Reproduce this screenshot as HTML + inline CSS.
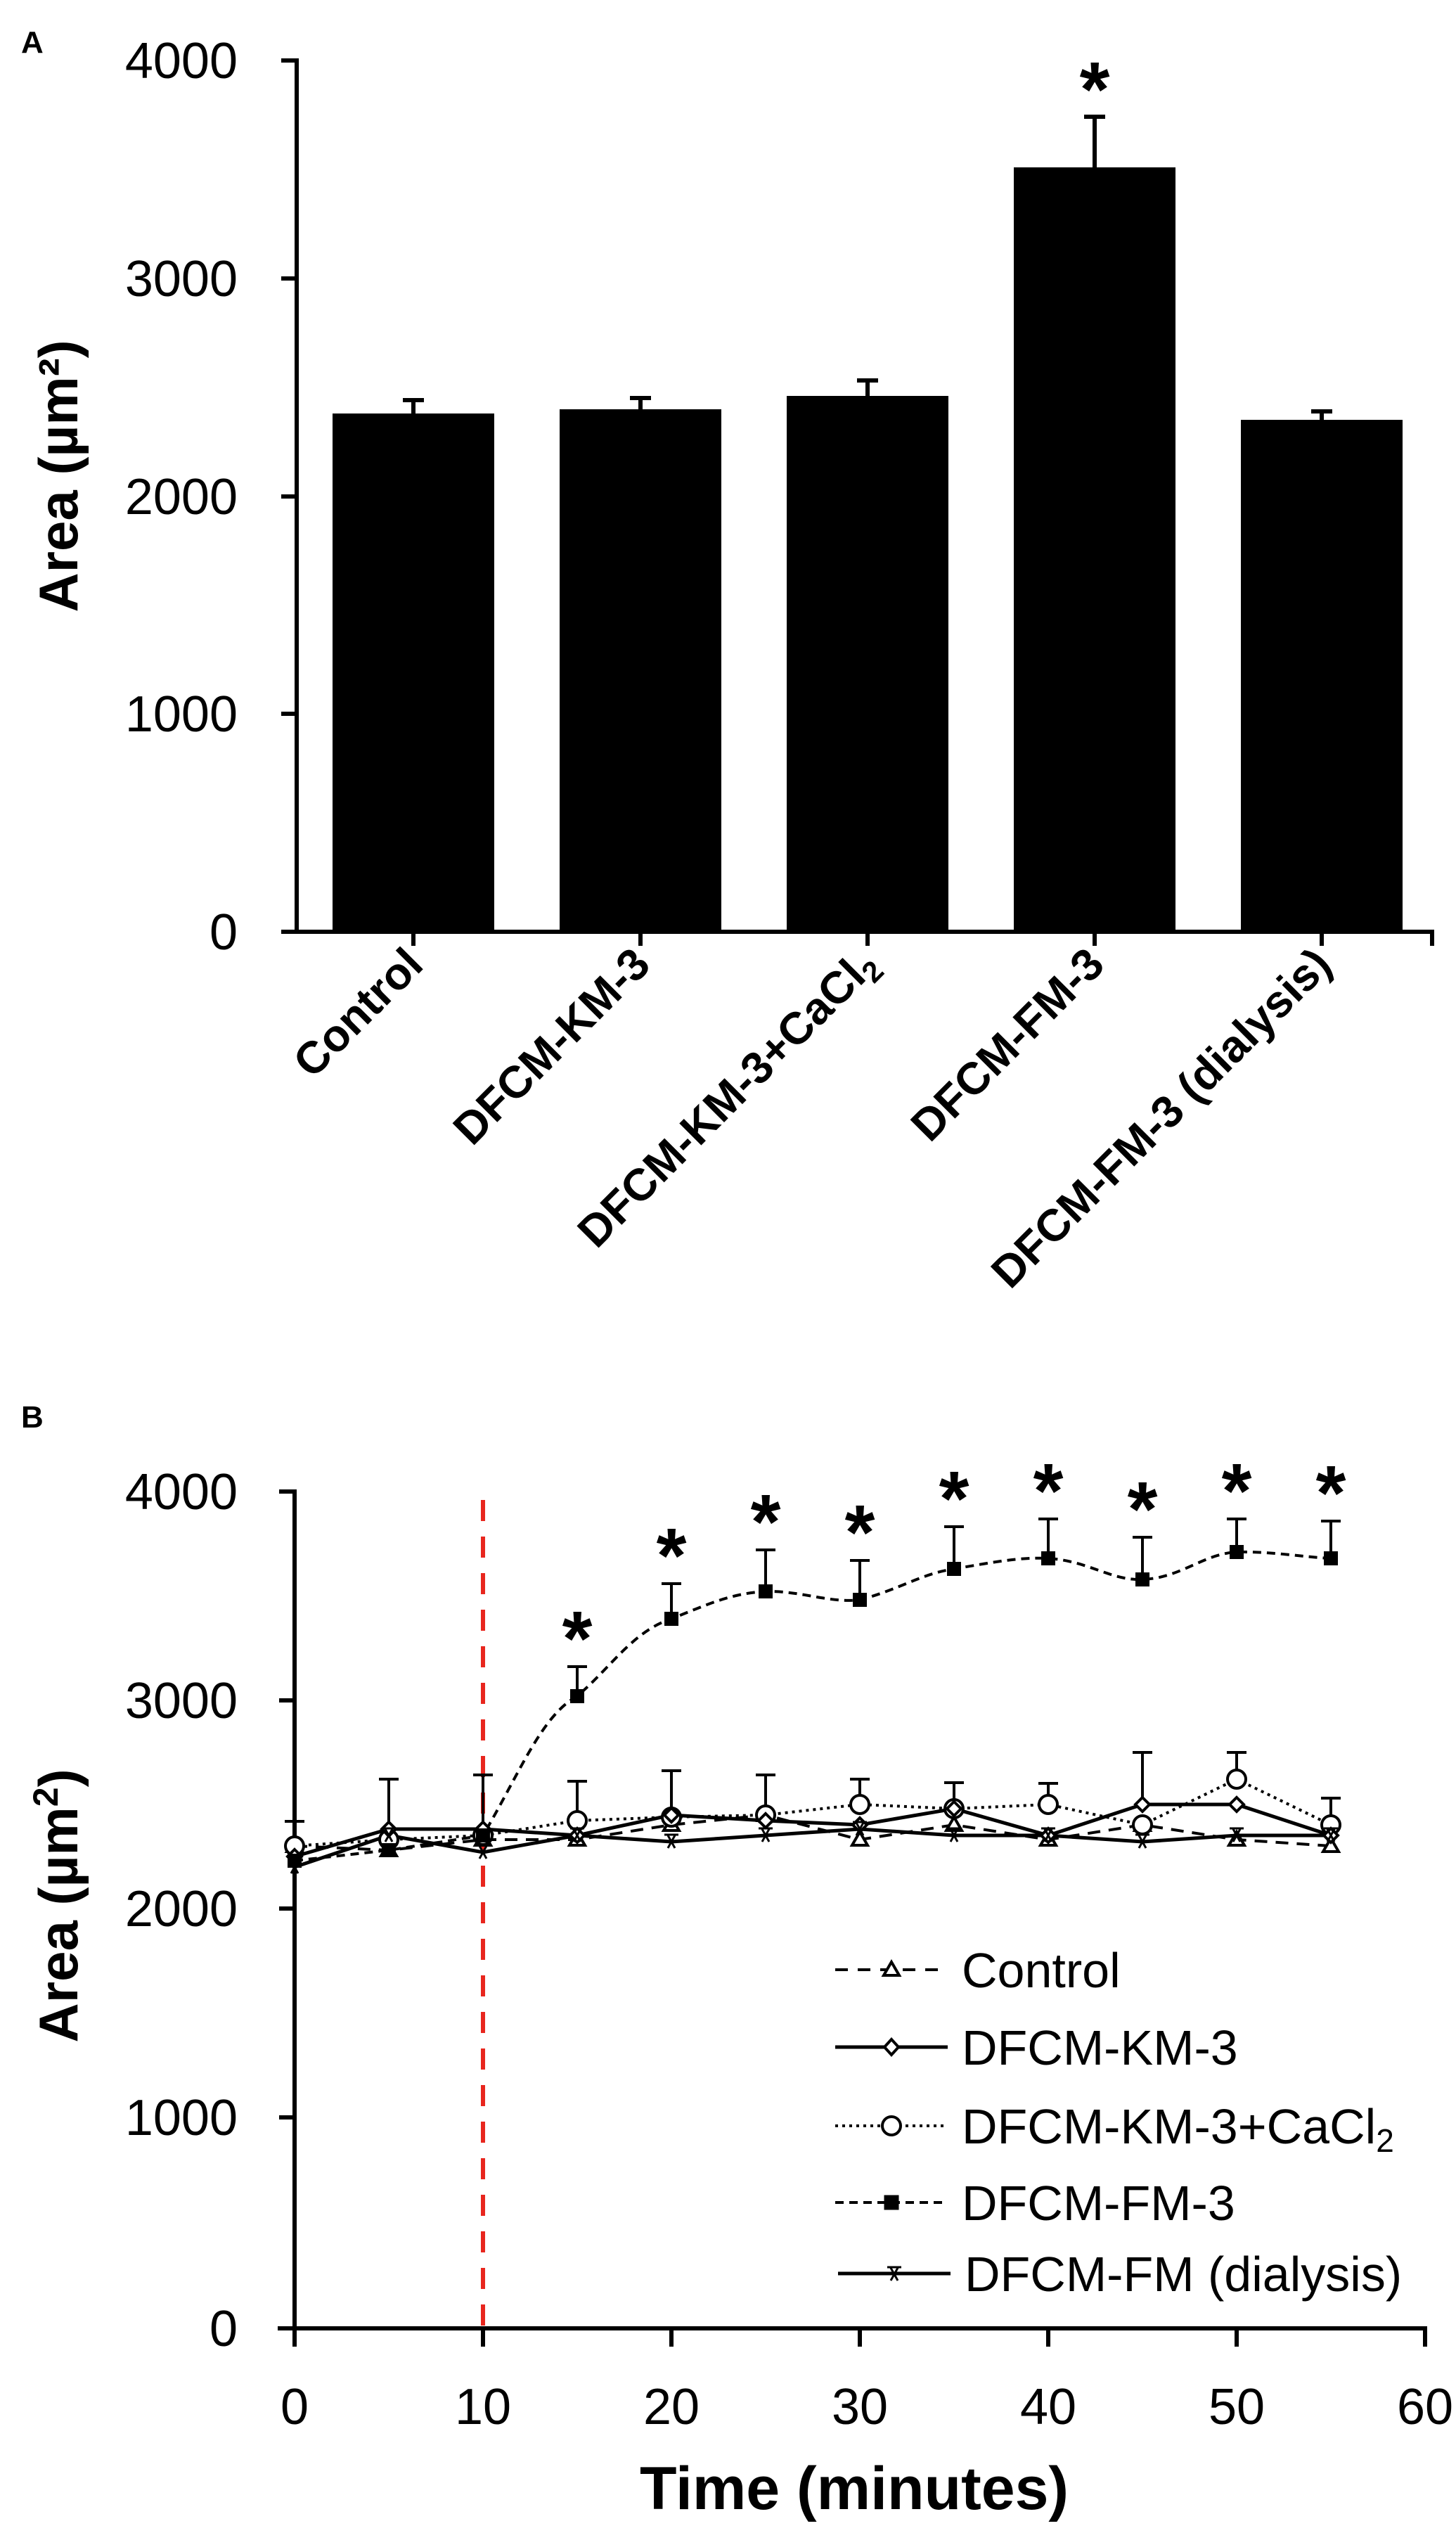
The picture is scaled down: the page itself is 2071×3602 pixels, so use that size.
<!DOCTYPE html>
<html><head><meta charset="utf-8"><style>html,body{margin:0;padding:0;background:#fff}svg{display:block}</style></head>
<body>
<svg width="2071" height="3602" viewBox="0 0 2071 3602" xmlns="http://www.w3.org/2000/svg" font-family="Liberation Sans, sans-serif">
<rect width="2071" height="3602" fill="#fff"/>
<!-- Panel A -->
<text x="30" y="75" font-size="44" font-weight="bold">A</text>
<g stroke="#000" stroke-width="6" fill="none">
<line x1="422" y1="83" x2="422" y2="1325"/>
<line x1="400" y1="1325" x2="2040" y2="1325"/>
<line x1="400" y1="86" x2="422" y2="86"/><line x1="400" y1="396" x2="422" y2="396"/><line x1="400" y1="706" x2="422" y2="706"/><line x1="400" y1="1015" x2="422" y2="1015"/>
<line x1="588" y1="1325" x2="588" y2="1345"/><line x1="911" y1="1325" x2="911" y2="1345"/><line x1="1234" y1="1325" x2="1234" y2="1345"/><line x1="1557" y1="1325" x2="1557" y2="1345"/><line x1="1880" y1="1325" x2="1880" y2="1345"/><line x1="2037" y1="1325" x2="2037" y2="1345"/>
</g>
<g font-size="72" text-anchor="end">
<text x="338" y="111">4000</text><text x="338" y="421">3000</text><text x="338" y="731">2000</text><text x="338" y="1040">1000</text><text x="338" y="1350">0</text>
</g>
<text transform="translate(110,677) rotate(-90)" font-size="78" font-weight="bold" text-anchor="middle">Area (µm²)</text>
<g fill="#000">
<rect x="473" y="588" width="230" height="737"/>
<rect x="796" y="582" width="230" height="743"/>
<rect x="1119" y="563" width="230" height="762"/>
<rect x="1442" y="238" width="230" height="1087"/>
<rect x="1765" y="597" width="230" height="728"/>
</g>
<g stroke="#000" stroke-width="6">
<line x1="588" y1="588" x2="588" y2="569"/><line x1="573" y1="569" x2="603" y2="569"/>
<line x1="911" y1="582" x2="911" y2="566"/><line x1="896" y1="566" x2="926" y2="566"/>
<line x1="1234" y1="563" x2="1234" y2="541"/><line x1="1219" y1="541" x2="1249" y2="541"/>
<line x1="1557" y1="238" x2="1557" y2="166"/><line x1="1542" y1="166" x2="1572" y2="166"/>
<line x1="1880" y1="597" x2="1880" y2="585"/><line x1="1865" y1="585" x2="1895" y2="585"/>
</g>
<text x="1557" y="165" font-size="110" font-weight="bold" text-anchor="middle">*</text>
<g font-size="64" font-weight="bold" text-anchor="end">
<text transform="translate(605,1375) rotate(-45)">Control</text>
<text transform="translate(928,1375) rotate(-45)">DFCM-KM-3</text>
<text transform="translate(1251,1375) rotate(-45)">DFCM-KM-3+CaCl<tspan font-size="42" dy="12">2</tspan></text>
<text transform="translate(1574,1375) rotate(-45)">DFCM-FM-3</text>
<text transform="translate(1897,1375) rotate(-45)">DFCM-FM-3 (dialysis)</text>
</g>
<!-- Panel B -->
<text x="30" y="2030" font-size="44" font-weight="bold">B</text>
<g stroke="#000" stroke-width="6" fill="none">
<line x1="419" y1="2118" x2="419" y2="3311"/>
<line x1="395" y1="3311" x2="2030" y2="3311"/>
<line x1="397" y1="2121" x2="419" y2="2121"/><line x1="397" y1="2418" x2="419" y2="2418"/><line x1="397" y1="2714" x2="419" y2="2714"/><line x1="397" y1="3011" x2="419" y2="3011"/>
<line x1="419" y1="3311" x2="419" y2="3337"/><line x1="687" y1="3311" x2="687" y2="3337"/><line x1="955" y1="3311" x2="955" y2="3337"/><line x1="1223" y1="3311" x2="1223" y2="3337"/><line x1="1491" y1="3311" x2="1491" y2="3337"/><line x1="1759" y1="3311" x2="1759" y2="3337"/><line x1="2027" y1="3311" x2="2027" y2="3337"/>
</g>
<g font-size="72" text-anchor="end">
<text x="338" y="2146">4000</text><text x="338" y="2443">3000</text><text x="338" y="2739">2000</text><text x="338" y="3036">1000</text><text x="338" y="3336">0</text>
</g>
<g font-size="72" text-anchor="middle">
<text x="419" y="3447">0</text><text x="687" y="3447">10</text><text x="955" y="3447">20</text><text x="1223" y="3447">30</text><text x="1491" y="3447">40</text><text x="1759" y="3447">50</text><text x="2027" y="3447">60</text>
</g>
<text x="1215" y="3568" font-size="86" font-weight="bold" text-anchor="middle">Time (minutes)</text>
<text transform="translate(110,2710) rotate(-90)" font-size="78" font-weight="bold" text-anchor="middle">Area (µm<tspan font-size="50" dy="-28">2</tspan><tspan dy="28">)</tspan></text>
<line x1="687" y1="2133" x2="687" y2="3308" stroke="#e8261e" stroke-width="6" stroke-dasharray="30 22"/>
<!-- error bars -->
<g stroke="#000" stroke-width="4">
<path d="M419 2655V2590M405 2590H433 M553 2631V2530M539 2530H567 M687 2610V2524M673 2524H701 M821 2589V2533M807 2533H835 M955 2581V2518M941 2518H969 M1089 2581V2524M1075 2524H1103 M1223 2566V2530M1209 2530H1237 M1357 2572V2535M1343 2535H1371 M1491 2566V2536M1477 2536H1505 M1625 2566V2492M1611 2492H1639 M1759 2530V2492M1745 2492H1773 M1893 2595V2557M1879 2557H1907"/>
<path d="M821 2412V2370M807 2370H835 M955 2302V2252M941 2252H969 M1089 2263V2204M1075 2204H1103 M1223 2275V2219M1209 2219H1237 M1357 2231V2171M1343 2171H1371 M1491 2216V2160M1477 2160H1505 M1625 2246V2186M1611 2186H1639 M1759 2207V2160M1745 2160H1773 M1893 2216V2163M1879 2163H1907"/>
</g>
<g font-size="110" font-weight="bold" text-anchor="middle">
<text x="821" y="2368">*</text><text x="955" y="2250">*</text><text x="1089" y="2202">*</text><text x="1223" y="2217">*</text><text x="1357" y="2169">*</text><text x="1491" y="2158">*</text><text x="1625" y="2184">*</text><text x="1759" y="2158">*</text><text x="1893" y="2161">*</text>
</g>
<!-- series -->
<g fill="none" stroke="#000">
<polyline stroke-width="4" stroke-dasharray="18 12" points="419,2625 553,2631 687,2616 821,2616 955,2595 1089,2581 1223,2616 1357,2595 1491,2616 1625,2595 1759,2616 1893,2625"/>
<polyline stroke-width="5" points="419,2640 553,2601 687,2601 821,2610 955,2581 1089,2589 1223,2595 1357,2572 1491,2610 1625,2566 1759,2566 1893,2610"/>
<polyline stroke-width="4" stroke-dasharray="4 6" points="419,2625 553,2616 687,2610 821,2589 955,2584 1089,2581 1223,2566 1357,2572 1491,2566 1625,2595 1759,2530 1893,2595"/>
<path stroke-width="4" stroke-dasharray="12 8" d="M419 2646 L553 2631 L687 2610 C740 2520 770 2440 821 2412 C870 2370 900 2320 955 2302 C1010 2280 1040 2266 1089 2263 C1140 2262 1180 2280 1223 2275 C1280 2260 1310 2238 1357 2231 C1410 2222 1450 2214 1491 2216 C1550 2220 1580 2248 1625 2246 C1680 2244 1710 2210 1759 2207 C1810 2206 1850 2214 1893 2216"/>
<polyline stroke-width="5" points="419,2655 553,2610 687,2634 821,2610 955,2619 1089,2610 1223,2601 1357,2610 1491,2610 1625,2619 1759,2610 1893,2610"/>
</g>
<!-- markers -->
<g fill="#fff" stroke="#000" stroke-width="4">
<path d="M419 2614l11 19h-22z M553 2620l11 19h-22z M687 2605l11 19h-22z M821 2605l11 19h-22z M955 2584l11 19h-22z M1089 2570l11 19h-22z M1223 2605l11 19h-22z M1357 2584l11 19h-22z M1491 2605l11 19h-22z M1625 2584l11 19h-22z M1759 2605l11 19h-22z M1893 2614l11 19h-22z"/>
<g>
<circle cx="419" cy="2625" r="13"/><circle cx="553" cy="2616" r="13"/><circle cx="687" cy="2610" r="13"/><circle cx="821" cy="2589" r="13"/><circle cx="955" cy="2584" r="13"/><circle cx="1089" cy="2581" r="13"/><circle cx="1223" cy="2566" r="13"/><circle cx="1357" cy="2572" r="13"/><circle cx="1491" cy="2566" r="13"/><circle cx="1625" cy="2595" r="13"/><circle cx="1759" cy="2530" r="13"/><circle cx="1893" cy="2595" r="13"/>
</g>
<path d="M419 2630l10 10-10 10-10-10z M553 2591l10 10-10 10-10-10z M687 2591l10 10-10 10-10-10z M821 2600l10 10-10 10-10-10z M955 2571l10 10-10 10-10-10z M1089 2579l10 10-10 10-10-10z M1223 2585l10 10-10 10-10-10z M1357 2562l10 10-10 10-10-10z M1491 2600l10 10-10 10-10-10z M1625 2556l10 10-10 10-10-10z M1759 2556l10 10-10 10-10-10z M1893 2600l10 10-10 10-10-10z"/>
</g>
<g fill="#000">
<rect x="409" y="2636" width="20" height="20"/><rect x="543" y="2621" width="20" height="20"/><rect x="677" y="2600" width="20" height="20"/><rect x="811" y="2402" width="20" height="20"/><rect x="945" y="2292" width="20" height="20"/><rect x="1079" y="2253" width="20" height="20"/><rect x="1213" y="2265" width="20" height="20"/><rect x="1347" y="2221" width="20" height="20"/><rect x="1481" y="2206" width="20" height="20"/><rect x="1615" y="2236" width="20" height="20"/><rect x="1749" y="2197" width="20" height="20"/><rect x="1883" y="2206" width="20" height="20"/>
</g>
<g stroke="#000" stroke-width="3">
<path d="M409 2645h20M414 2646l10 18M424 2646l-10 18 M543 2600h20M548 2601l10 18M558 2601l-10 18 M677 2624h20M682 2625l10 18M692 2625l-10 18 M811 2600h20M816 2601l10 18M826 2601l-10 18 M945 2609h20M950 2610l10 18M960 2610l-10 18 M1079 2600h20M1084 2601l10 18M1094 2601l-10 18 M1213 2591h20M1218 2592l10 18M1228 2592l-10 18 M1347 2600h20M1352 2601l10 18M1362 2601l-10 18 M1481 2600h20M1486 2601l10 18M1496 2601l-10 18 M1615 2609h20M1620 2610l10 18M1630 2610l-10 18 M1749 2600h20M1754 2601l10 18M1764 2601l-10 18 M1883 2600h20M1888 2601l10 18M1898 2601l-10 18"/>
</g>
<!-- legend -->
<g stroke="#000" fill="none">
<line x1="1188" y1="2801" x2="1348" y2="2801" stroke-width="4" stroke-dasharray="18 14"/>
<path d="M1268 2790l11 19h-22z" fill="#fff" stroke-width="4"/>
<line x1="1188" y1="2911" x2="1348" y2="2911" stroke-width="5"/>
<path d="M1268 2900l10 11-10 11-10-11z" fill="#fff" stroke-width="4"/>
<line x1="1188" y1="3023" x2="1348" y2="3023" stroke-width="4" stroke-dasharray="4 6"/>
<circle cx="1268" cy="3023" r="13" fill="#fff" stroke-width="4"/>
<line x1="1188" y1="3132" x2="1348" y2="3132" stroke-width="4" stroke-dasharray="12 8"/>
<rect x="1258" y="3122" width="20" height="20" fill="#000"/>
<line x1="1192" y1="3233" x2="1352" y2="3233" stroke-width="5"/>
<path d="M1262 3224h20M1267 3225l10 18M1277 3225l-10 18" stroke-width="3"/>
</g>
<g font-size="70">
<text x="1368" y="2826">Control</text>
<text x="1368" y="2936">DFCM-KM-3</text>
<text x="1368" y="3048">DFCM-KM-3+CaCl<tspan font-size="46" dy="12">2</tspan></text>
<text x="1368" y="3157">DFCM-FM-3</text>
<text x="1372" y="3258">DFCM-FM (dialysis)</text>
</g>
</svg>
</body></html>
